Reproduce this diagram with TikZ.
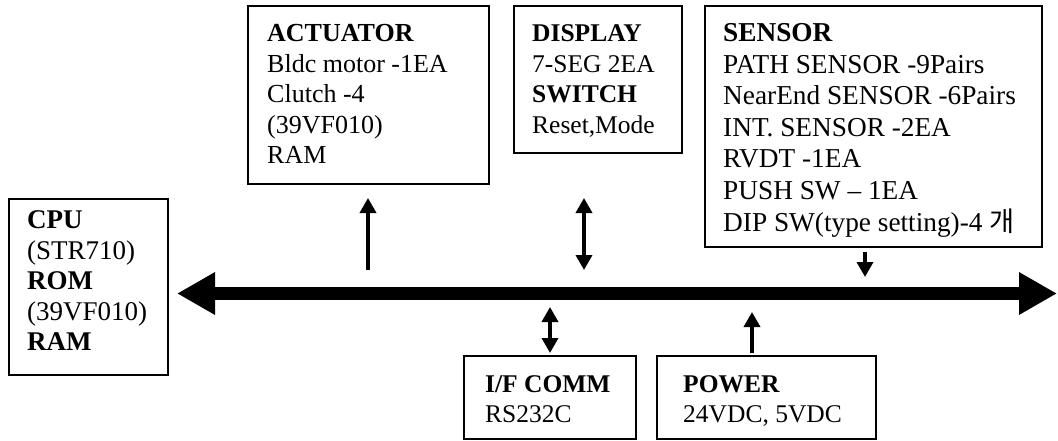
\documentclass[tikz,border=0pt]{standalone}
\usepackage{fontspec}
\setmainfont{Liberation Serif}
\newfontfamily\krfont{Noto Sans CJK KR}
\usetikzlibrary{arrows.meta}
\tikzset{
  blk/.style={draw, line width=2pt, rectangle, inner sep=0pt, anchor=north west},
  txt/.style={anchor=base west, inner sep=0pt, font=\fontsize{25.5}{30.5}\selectfont},
  link/.style={line width=3.5pt, -{Triangle[length=15pt,width=16pt]}},
  linkboth/.style={line width=3.5pt, {Triangle[length=15pt,width=16pt]}-{Triangle[length=15pt,width=16pt]}},
  busline/.style={line width=13pt, {Triangle[length=38pt,width=40pt]}-{Triangle[length=38pt,width=40pt]}}
}
\newcommand\blines[1]{\begin{tabular}[t]{@{}l@{}}#1\end{tabular}}
\begin{document}
\begin{tikzpicture}[x=1pt,y=-1pt]
\useasboundingbox (0,0) rectangle (1058,441);
% boxes
\node[blk, minimum width=159pt, minimum height=176pt] (cpu) at (8,198) {};
\node[blk, minimum width=241pt, minimum height=178pt] (act) at (247,5) {};
\node[blk, minimum width=168pt, minimum height=147pt] (disp) at (513,5) {};
\node[blk, minimum width=337pt, minimum height=241pt] (sens) at (704,5) {};
\node[blk, minimum width=172pt, minimum height=83pt] (ifc) at (463,355) {};
\node[blk, minimum width=219pt, minimum height=83pt] (pow) at (656,355) {};
% texts
\node[txt, font=\fontsize{27}{30.5}\selectfont] (cpuT) at (27,229) {\blines{\textbf{CPU}\\(STR710)\\\textbf{ROM}\\(39VF010)\\\textbf{RAM}}};
\node[txt, font=\fontsize{26}{30.5}\selectfont] (actT) at (267,42) {\blines{\textbf{ACTUATOR}\\Bldc motor -1EA\\Clutch -4\\(39VF010)\\RAM}};
\node[txt] (dispT) at (532,42) {\blines{\textbf{DISPLAY}\\7-SEG 2EA\\\textbf{SWITCH}\\Reset,Mode}};
\node[txt, font=\fontsize{27.3}{31.5}\selectfont] (sensT) at (723,42) {\blines{\textbf{SENSOR}\\PATH SENSOR -9Pairs\\NearEnd SENSOR -6Pairs\\INT. SENSOR -2EA\\RVDT -1EA\\PUSH SW -- 1EA\\DIP SW(type setting)-4 {\krfont 개}}};
\node[txt] (ifcT) at (485,392) {\blines{\textbf{I/F COMM}\\RS232C}};
\node[txt] (powT) at (683,392) {\blines{\textbf{POWER}\\24VDC, 5VDC}};
% bus
\coordinate (busL) at (177,293.5);
\coordinate (busR) at (1057,293.5);
\draw[busline] (busL) -- (busR);
% connectors
\coordinate (actA) at (368,270);
\coordinate (actB) at (368,198);
\draw[link] (actA) -- (actB);
\coordinate (dispA) at (584,270);
\coordinate (dispB) at (584,198);
\draw[linkboth] (dispA) -- (dispB);
\coordinate (sensA) at (865,252);
\coordinate (sensB) at (865,277);
\draw[link] (sensA) -- (sensB);
\coordinate (ifcA) at (550,307);
\coordinate (ifcB) at (550,353);
\draw[linkboth] (ifcA) -- (ifcB);
\coordinate (powA) at (752,353);
\coordinate (powB) at (752,312);
\draw[link] (powA) -- (powB);
\end{tikzpicture}
\end{document}
